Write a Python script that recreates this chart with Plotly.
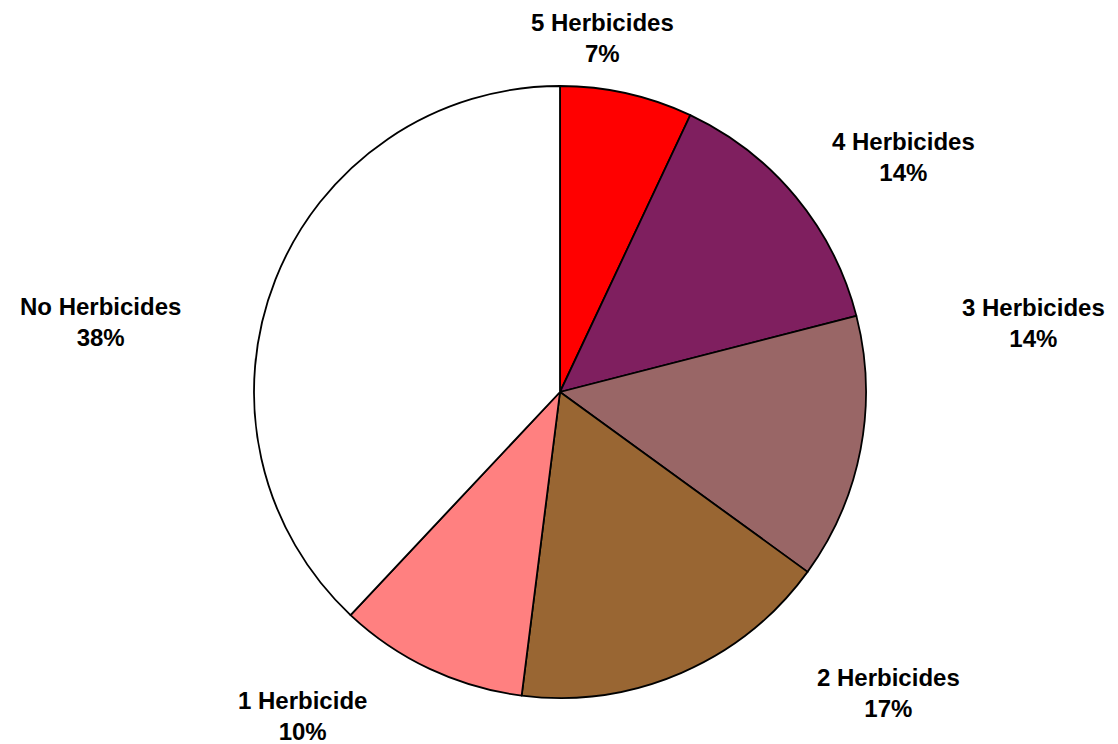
import plotly.graph_objects as go

# Share of fields by number of herbicides applied
categories = ["5 Herbicides", "4 Herbicides", "3 Herbicides", "2 Herbicides", "1 Herbicide", "No Herbicides"]
percent_values = [7, 14, 14, 17, 10, 38]
slice_colors = ["#FF0000", "#7F1F5F", "#996666", "#996633", "#FF8080", "#FFFFFF"]

W, H = 1118, 744
cx, cy, r = 560, 392, 306  # pie centre and radius in pixels

fig = go.Figure(go.Pie(
    labels=categories,
    values=percent_values,
    sort=False,
    direction="clockwise",
    rotation=0,
    marker=dict(colors=slice_colors, line=dict(color="black", width=1.8)),
    textinfo="none",
    hoverinfo="label+percent",
    showlegend=False,
    domain=dict(x=[(cx - r) / W, (cx + r) / W], y=[(H - cy - r) / H, (H - cy + r) / H]),
))

# label anchor points (pixel centres of the two-line labels)
label_xy = [(602, 38), (903, 157), (1033, 323), (888, 693), (302, 716), (100, 322)]
for name, val, (lx, ly) in zip(categories, percent_values, label_xy):
    fig.add_annotation(
        x=lx / W, y=1 - ly / H, xref="paper", yref="paper",
        text=f"<b>{name}<br>{val}%</b>", showarrow=False,
        font=dict(family="Liberation Sans, Arial", size=24, color="black"),
        xanchor="center", yanchor="middle", align="center",
    )

fig.update_layout(
    width=W, height=H,
    margin=dict(l=0, r=0, t=0, b=0),
    paper_bgcolor="white", plot_bgcolor="white",
)

fig.write_html("out.html")
